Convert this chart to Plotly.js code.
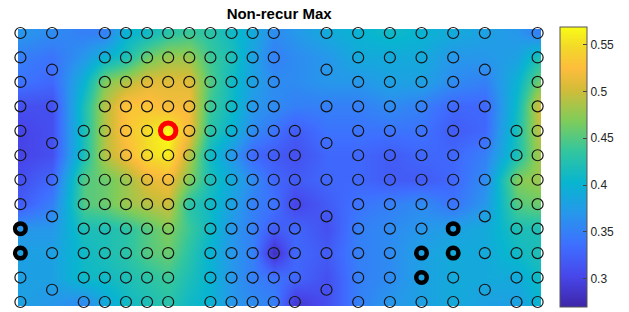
<!DOCTYPE html>
<html><head><meta charset="utf-8">
<script src="https://cdn.plot.ly/plotly-3.0.1.min.js"></script>
<style>html,body{margin:0;padding:0;background:#fff;} #chart{width:629px;height:312px;}</style>
</head><body><div id="chart"></div>
<script>
// electrode grid columns (x position, grid units) and rows
const colPos = [0, 3, 6, 8, 10, 12, 14, 16, 18, 20, 22, 24, 26, 29, 32, 35, 38, 41, 44, 47, 49];
const rowPos = [0, 1, 2, 3, 4, 5, 6, 7, 8, 9, 10, 11];

// interpolated map values at each (row, column)
const zRow0  = [.37,.36,.35,.35,.40,.41,.43,.44,.43,.41,.39,.36,.37,.39,.40,.41,.40,.39,.38,.37,.35];
const zRow1  = [.35,.34,.37,.40,.42,.46,.48,.48,.44,.42,.38,.35,.36,.37,.39,.39,.39,.37,.37,.38,.42];
const zRow2  = [.34,.33,.40,.47,.49,.51,.51,.51,.45,.41,.38,.36,.36,.37,.37,.38,.38,.36,.35,.40,.46];
const zRow3  = [.31,.31,.42,.49,.53,.53,.52,.52,.44,.41,.37,.36,.35,.35,.35,.36,.35,.33,.33,.41,.50];
const zRow4  = [.30,.31,.42,.49,.53,.55,.57,.52,.43,.40,.36,.34,.32,.34,.34,.34,.34,.32,.33,.42,.49];
const zRow5  = [.30,.31,.42,.49,.52,.55,.56,.49,.41,.37,.33,.32,.31,.33,.33,.32,.33,.33,.35,.42,.48];
const zRow6  = [.31,.33,.45,.46,.48,.51,.52,.47,.42,.39,.36,.33,.32,.33,.33,.32,.32,.33,.36,.47,.48];
const zRow7  = [.32,.35,.45,.46,.48,.49,.50,.43,.41,.38,.35,.34,.30,.32,.34,.35,.36,.34,.37,.45,.46];
const zRow8  = [.37,.37,.42,.42,.43,.45,.47,.44,.41,.37,.35,.32,.33,.31,.35,.36,.37,.38,.39,.42,.42];
const zRow9  = [.38,.38,.41,.42,.43,.45,.46,.43,.40,.37,.35,.28,.33,.32,.35,.36,.38,.39,.39,.41,.42];
const zRow10 = [.38,.38,.41,.41,.42,.43,.44,.42,.40,.37,.35,.34,.33,.31,.35,.36,.38,.39,.39,.39,.41];
const zRow11 = [.38,.37,.36,.39,.41,.42,.43,.41,.40,.37,.36,.35,.29,.31,.35,.37,.38,.39,.38,.38,.40];

// which rows carry an electrode in each column
const fullRows   = [0, 1, 2, 3, 4, 5, 6, 7, 8, 9, 10, 11];
const offsetRows = [0, 1.5, 3, 4.5, 6, 7.5, 9, 10.5];
const lowerRows  = [4, 5, 6, 7, 8, 9, 10, 11];
const upperRows  = [0, 1, 2, 3, 4, 5, 6, 7];
const columnRows = [fullRows, offsetRows, lowerRows, fullRows, fullRows, fullRows, fullRows, upperRows,
  fullRows, fullRows, fullRows, fullRows, lowerRows, offsetRows, fullRows, fullRows, fullRows, fullRows,
  offsetRows, lowerRows, fullRows];

// highlighted electrodes
const boldX = [0, 0, 38, 38, 41, 41];
const boldY = [8, 9, 9, 10, 8, 9];
const peakX = [14];
const peakY = [4];

// colorbar ticks
const tickVals = [0.3, 0.35, 0.4, 0.45, 0.5, 0.55];
const tickText = ['0.3', '0.35', '0.4', '0.45', '0.5', '0.55'];
const zMin = 0.27, zMax = 0.569;

const z = [zRow0, zRow1, zRow2, zRow3, zRow4, zRow5, zRow6, zRow7, zRow8, zRow9, zRow10, zRow11];

const isHighlight = (x, y) => {
  for (let i = 0; i < boldX.length; i++) if (boldX[i] === x && boldY[i] === y) return true;
  for (let i = 0; i < peakX.length; i++) if (peakX[i] === x && peakY[i] === y) return true;
  return false;
};
const ex = [], ey = [];
colPos.forEach((cx, ci) => {
  columnRows[ci].forEach(r => { if (!isHighlight(cx, r)) { ex.push(cx); ey.push(r); } });
});

const parula = [
  [0.000, '#3E26A8'], [0.111, '#4747EB'], [0.222, '#3E6FFF'], [0.333, '#2797EB'],
  [0.444, '#08B5D0'], [0.556, '#32C69F'], [0.667, '#80CC59'], [0.778, '#D4BC38'],
  [0.850, '#FDBC3C'], [0.925, '#F3D72A'], [1.000, '#F9FB15']
];

const font = '"Liberation Sans", Arial, Helvetica, sans-serif';

const traces = [
  {
    type: 'heatmap', x: colPos, y: rowPos, z: z, zsmooth: 'best',
    colorscale: parula, zmin: zMin, zmax: zMax, hoverinfo: 'skip',
    colorbar: {
      x: 1.0363, xanchor: 'left', xpad: 0, ypad: 0,
      y: 0.5027, yanchor: 'middle', len: 280, lenmode: 'pixels', thickness: 27,
      outlinewidth: 1, outlinecolor: '#555',
      tickvals: tickVals, ticktext: tickText,
      ticks: 'inside', ticklen: 4, tickwidth: 1, tickcolor: '#444',
      tickfont: {family: font, size: 12, color: '#262626'}
    }
  },
  {
    type: 'scatter', mode: 'markers', x: ex, y: ey, cliponaxis: false, hoverinfo: 'skip',
    marker: {symbol: 'circle-open', size: 11, color: '#151515', line: {width: 1.2, color: '#151515'}}
  },
  {
    type: 'scatter', mode: 'markers', x: boldX, y: boldY, cliponaxis: false, hoverinfo: 'skip',
    marker: {symbol: 'circle-open', size: 10.5, color: '#000', line: {width: 4.5, color: '#000'}}
  },
  {
    type: 'scatter', mode: 'markers', x: peakX, y: peakY, cliponaxis: false, hoverinfo: 'skip',
    marker: {symbol: 'circle-open', size: 15.5, color: '#ff0000', line: {width: 5, color: '#ff0000'}}
  }
];

const layout = {
  width: 629, height: 312,
  margin: {l: 18, r: 88, t: 29, b: 6, pad: 0},
  paper_bgcolor: '#fff', plot_bgcolor: '#fff',
  showlegend: false,
  title: {text: '<b>Non-recur Max</b>', font: {family: font, size: 15, color: '#000'},
          x: 0.4438, xanchor: 'center', xref: 'container', y: 0.955, yanchor: 'middle', yref: 'container'},
  xaxis: {range: [-0.228, 49.32], visible: false, showgrid: false, zeroline: false, fixedrange: true},
  yaxis: {range: [11.164, -0.164], visible: false, showgrid: false, zeroline: false, fixedrange: true},
  hovermode: false
};

Plotly.newPlot('chart', traces, layout, {staticPlot: true, displayModeBar: false});
</script>
</body></html>
